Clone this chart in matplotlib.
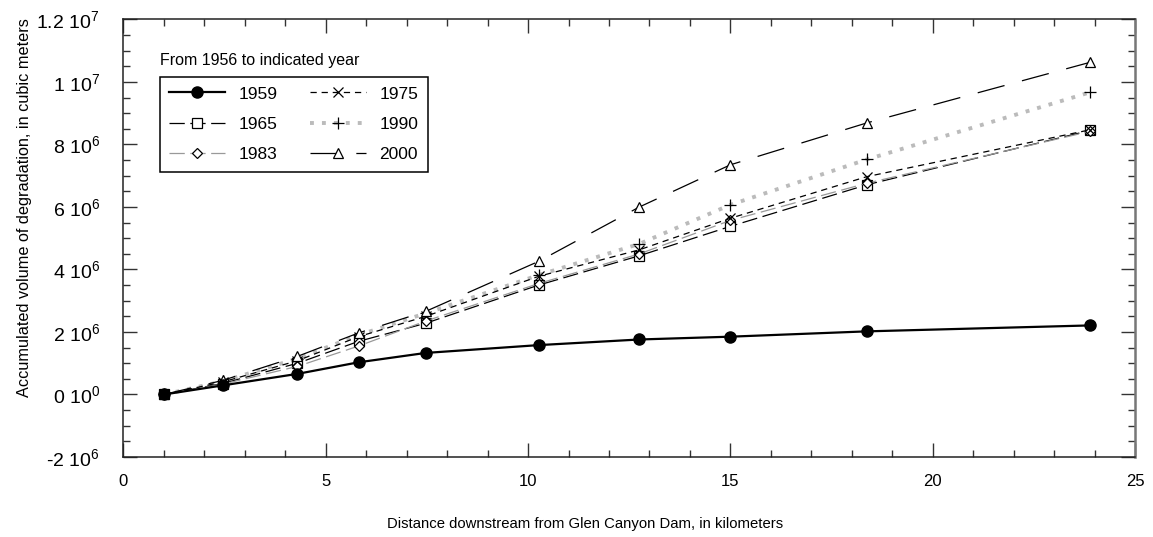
"""Accumulated degradation volume downstream from Glen Canyon Dam."""

import matplotlib
matplotlib.use("Agg")
import matplotlib.pyplot as plt
from matplotlib.ticker import FixedLocator, MultipleLocator

plt.rcParams["font.family"] = ["Liberation Sans", "DejaVu Sans"]
plt.rcParams["mathtext.fontset"] = "custom"
plt.rcParams["mathtext.rm"] = "Liberation Sans"
plt.rcParams["mathtext.default"] = "regular"
plt.rcParams["lines.scale_dashes"] = False

# distance downstream, km
km = [1.0, 2.45, 4.3, 5.81, 7.47, 10.26, 12.75, 15.0, 18.37, 23.89]

# accumulated volume, millions of cubic meters
v1959 = [0, 0.29, 0.66, 1.03, 1.33, 1.58, 1.76, 1.85, 2.02, 2.21]
v1965 = [0, 0.35, 1.00, 1.70, 2.28, 3.50, 4.44, 5.38, 6.71, 8.45]
v1983 = [0, 0.33, 0.90, 1.55, 2.35, 3.55, 4.50, 5.57, 6.76, 8.42]
v1975 = [0, 0.40, 1.08, 1.85, 2.50, 3.78, 4.63, 5.64, 6.97, 8.47]
v1990 = [0, 0.42, 1.15, 1.90, 2.60, 3.82, 4.82, 6.07, 7.52, 9.67]
v2000 = [0, 0.45, 1.22, 1.97, 2.66, 4.26, 6.00, 7.35, 8.69, 10.63]

y_ticks = [-2e6, 0, 2e6, 4e6, 6e6, 8e6, 1e7, 1.2e7]
y_tick_labels = ["-2 $10^{6}$", "0 $10^{0}$", "2 $10^{6}$", "4 $10^{6}$",
                 "6 $10^{6}$", "8 $10^{6}$", "1 $10^{7}$", "1.2 $10^{7}$"]


def scale(vals):
    return [v * 1e6 for v in vals]


fig = plt.figure(figsize=(11.53, 5.37), dpi=100)
ax = fig.add_axes([0.1071, 0.149, 0.8773, 0.8147])

h59, = ax.plot(km, scale(v1959), color="black", lw=1.6, marker="o", ms=8,
               mfc="black", mec="black", label="1959", zorder=6)
h65, = ax.plot(km, scale(v1965), color="black", lw=0.9, dashes=(11, 4),
               marker="s", ms=7, mfc="white", mec="black", mew=0.9,
               label="1965", zorder=4)
h83, = ax.plot(km, scale(v1983), color="#999999", lw=0.9, dashes=(11, 4),
               marker="D", ms=5.5, mfc="white", mec="black", mew=0.9,
               label="1983", zorder=4)
h75, = ax.plot(km, scale(v1975), color="black", lw=0.9, dashes=(4.5, 3.5),
               marker="x", ms=7, mec="black", mew=0.9, label="1975", zorder=5)
h90, = ax.plot(km, scale(v1990), color="#bbbbbb", lw=2.8, dashes=(2.8, 5.8),
               marker="+", ms=9, mec="black", mew=0.9, label="1990", zorder=3)
h00, = ax.plot(km, scale(v2000), color="black", lw=0.9, dashes=(20, 13),
               marker="^", ms=7, mfc="white", mec="black", mew=0.9,
               label="2000", zorder=5)

ax.set_xlim(0, 25)
ax.set_ylim(-2e6, 1.2e7)
ax.xaxis.set_major_locator(MultipleLocator(5))
ax.xaxis.set_minor_locator(MultipleLocator(1))
ax.yaxis.set_major_locator(FixedLocator(y_ticks))
ax.yaxis.set_minor_locator(MultipleLocator(5e5))
ax.set_yticklabels(y_tick_labels)

ax.tick_params(which="both", direction="in", top=True, right=True,
               color="#333333")
ax.tick_params(which="major", length=10, width=1)
ax.tick_params(which="minor", length=5, width=1)
ax.tick_params(axis="y", which="major", labelsize=14, pad=17)
ax.tick_params(axis="x", which="major", labelsize=12, pad=12)
for s in ["left", "bottom", "top"]:
    ax.spines[s].set_color("#222222")
    ax.spines[s].set_linewidth(1.1)
ax.spines["right"].set_color("#777777")
ax.spines["right"].set_linewidth(1.8)

ax.set_xlabel("Distance downstream from Glen Canyon Dam, in kilometers",
              fontsize=10.7)
ax.xaxis.set_label_coords(0.456, -0.138)
ax.set_ylabel("Accumulated volume of degradation, in cubic meters",
              fontsize=11.7)
ax.yaxis.set_label_coords(-0.09, 0.57)

ax.text(0.036, 0.907, "From 1956 to indicated year", transform=ax.transAxes,
        fontsize=11.5, va="center", ha="left")
leg = ax.legend(handles=[h59, h65, h83, h75, h90, h00], ncol=2,
                loc="upper left", bbox_to_anchor=(0.036, 0.869),
                borderaxespad=0, fontsize=12.5, handlelength=3.2,
                columnspacing=1.85, labelspacing=0.87, fancybox=False,
                framealpha=1, edgecolor="black", borderpad=0.55)
leg.get_frame().set_linewidth(1.1)

fig.savefig("out.png", dpi=100)
